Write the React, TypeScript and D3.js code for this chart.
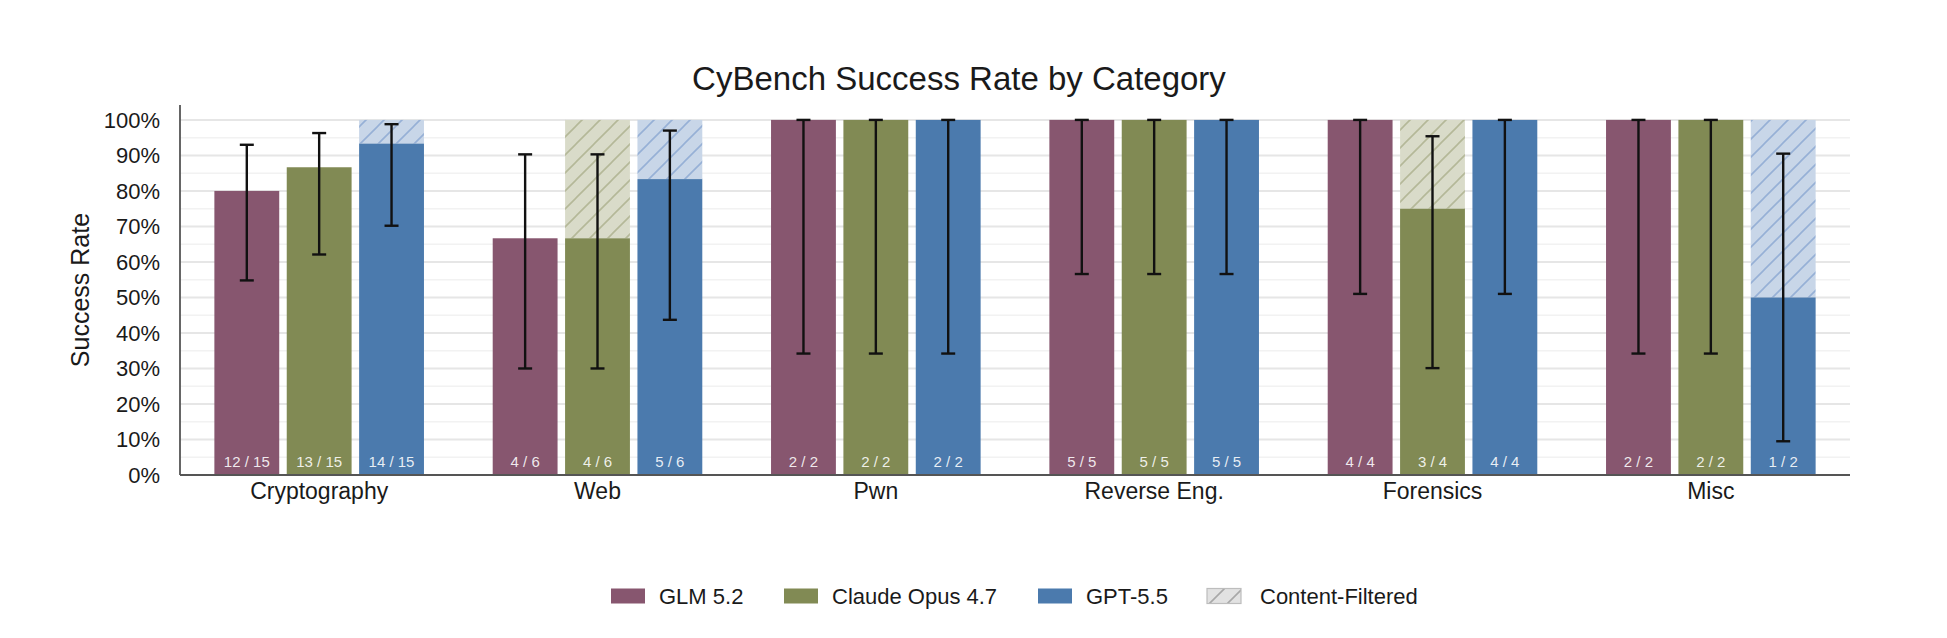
import * as d3 from 'd3';

const categories = ['Cryptography', 'Web', 'Pwn', 'Reverse Eng.', 'Forensics', 'Misc'];
const totals = [15, 6, 2, 5, 4, 2];

const models = ['GLM 5.2', 'Claude Opus 4.7', 'GPT-5.5'];
const modelColors = ['#87566f', '#818a54', '#4b7aad'];
const hatchBg = ['#dccbd3', '#d9dbc9', '#c8d6e8'];
const hatchLine = ['#b797a7', '#b4b898', '#96b0d6'];

// solved tasks per category
const glmSolved = [12, 4, 2, 5, 4, 2];
const claudeSolved = [13, 4, 2, 5, 3, 2];
const gptSolved = [14, 5, 2, 5, 4, 1];

// tasks blocked by the content filter (drawn hatched on top)
const glmFiltered = [0, 0, 0, 0, 0, 0];
const claudeFiltered = [0, 2, 0, 0, 1, 0];
const gptFiltered = [1, 1, 0, 0, 0, 1];

// 95% interval ends
const glmLow = [0.548, 0.3, 0.342, 0.566, 0.51, 0.342];
const glmHigh = [0.93, 0.903, 1, 1, 1, 1];
const claudeLow = [0.621, 0.3, 0.342, 0.566, 0.301, 0.342];
const claudeHigh = [0.963, 0.903, 1, 1, 0.954, 1];
const gptLow = [0.702, 0.437, 0.342, 0.566, 0.51, 0.095];
const gptHigh = [0.988, 0.97, 1, 1, 1, 0.905];

const yTicks = [0, 0.1, 0.2, 0.3, 0.4, 0.5, 0.6, 0.7, 0.8, 0.9, 1.0];
const yMinor = [0.05, 0.15, 0.25, 0.35, 0.45, 0.55, 0.65, 0.75, 0.85, 0.95];

const legendLabels = ['GLM 5.2', 'Claude Opus 4.7', 'GPT-5.5', 'Content-Filtered'];

const solved = [glmSolved, claudeSolved, gptSolved];
const filtered = [glmFiltered, claudeFiltered, gptFiltered];
const lows = [glmLow, claudeLow, gptLow];
const highs = [glmHigh, claudeHigh, gptHigh];

const WIDTH = 1947;
const HEIGHT = 638;
const FONT = '"Liberation Sans", Arial, Helvetica, sans-serif';

export default function App() {
  const margin = { left: 180, right: 1850, top: 105, bottom: 475 };
  const x = d3.scaleLinear().domain([-0.5, categories.length - 0.5]).range([margin.left, margin.right]);
  const y = d3.scaleLinear().domain([0, 1.042]).range([margin.bottom, margin.top]);
  const pitch = 0.26;
  const barW = 0.233;
  const bw = x(barW) - x(0);

  const legendX = [611, 784, 1038, 1207];

  return (
    <div>
      <style>{`body{margin:0}`}</style>
      <svg width={WIDTH} height={HEIGHT} viewBox={`0 0 ${WIDTH} ${HEIGHT}`} style={{ display: 'block', background: '#fff' }} fontFamily={FONT}>
        <defs>
          {models.map((m, i) => (
            <pattern key={m} id={`hatch-${i}`} patternUnits="userSpaceOnUse" width={18} height={18}>
              <rect width={18} height={18} fill={hatchBg[i]} />
              <path d="M0,18 L18,0 M-9,9 L9,-9 M9,27 L27,9" stroke={hatchLine[i]} strokeWidth={1.6} />
            </pattern>
          ))}
          <pattern id="hatch-legend" patternUnits="userSpaceOnUse" width={18} height={18} x={1207} y={588}>
            <rect width={18} height={18} fill="#e2e2e2" />
            <path d="M0,18 L18,0 M-9,9 L9,-9 M9,27 L27,9" stroke="#a8a8a8" strokeWidth={1.6} />
          </pattern>
        </defs>

        {/* title */}
        <text x={959} y={90} textAnchor="middle" fontSize={33} fill="#1a1a1a">
          CyBench Success Rate by Category
        </text>

        {/* grid */}
        {yMinor.map((t) => (
          <line key={`m${t}`} x1={margin.left} x2={margin.right} y1={y(t)} y2={y(t)} stroke="#f2f2f2" strokeWidth={1.5} />
        ))}
        {yTicks.map((t) => (
          <line key={`g${t}`} x1={margin.left} x2={margin.right} y1={y(t)} y2={y(t)} stroke="#e6e6e6" strokeWidth={2} />
        ))}

        {/* bars */}
        {categories.map((c, ci) =>
          models.map((m, mi) => {
            const cx = x(ci + (mi - 1) * pitch);
            const rate = solved[mi][ci] / totals[ci];
            const top = (solved[mi][ci] + filtered[mi][ci]) / totals[ci];
            return (
              <g key={`${c}-${m}`}>
                {filtered[mi][ci] > 0 && (
                  <rect x={cx - bw / 2} width={bw} y={y(top)} height={y(rate) - y(top)} fill={`url(#hatch-${mi})`} />
                )}
                <rect x={cx - bw / 2} width={bw} y={y(rate)} height={y(0) - y(rate)} fill={modelColors[mi]} />
                <text x={cx} y={y(0) - 8} textAnchor="middle" fontSize={15} fill="#fff" fillOpacity={0.88}>
                  {`${solved[mi][ci]} / ${totals[ci]}`}
                </text>
              </g>
            );
          })
        )}

        {/* error bars */}
        {categories.map((c, ci) =>
          models.map((m, mi) => {
            const cx = x(ci + (mi - 1) * pitch);
            const lo = y(lows[mi][ci]);
            const hi = y(highs[mi][ci]);
            return (
              <g key={`e-${c}-${m}`} stroke="#111" strokeWidth={2.4}>
                <line x1={cx} x2={cx} y1={lo} y2={hi} />
                <line x1={cx - 7} x2={cx + 7} y1={lo} y2={lo} />
                <line x1={cx - 7} x2={cx + 7} y1={hi} y2={hi} />
              </g>
            );
          })
        )}

        {/* spines */}
        <line x1={margin.left} x2={margin.left} y1={margin.top} y2={margin.bottom} stroke="#555" strokeWidth={1.8} />
        <line x1={margin.left} x2={margin.right} y1={margin.bottom} y2={margin.bottom} stroke="#555" strokeWidth={1.8} />

        {/* y tick labels */}
        {yTicks.map((t) => (
          <text key={`yl${t}`} x={160} y={y(t)} dy="0.36em" textAnchor="end" fontSize={22} fill="#1a1a1a">
            {d3.format('.0%')(t)}
          </text>
        ))}

        {/* category labels */}
        {categories.map((c, ci) => (
          <text key={c} x={x(ci)} y={499} textAnchor="middle" fontSize={23} fill="#1a1a1a">
            {c}
          </text>
        ))}

        {/* y label */}
        <text transform={`translate(80,${(margin.top + margin.bottom) / 2}) rotate(-90)`} dy="0.36em" textAnchor="middle" fontSize={25} fill="#1a1a1a">
          Success Rate
        </text>

        {/* legend */}
        {legendLabels.map((l, i) => (
          <g key={l}>
            <rect
              x={legendX[i]}
              y={588.5}
              width={34}
              height={15}
              fill={i < 3 ? modelColors[i] : 'url(#hatch-legend)'}
              stroke={i < 3 ? 'none' : '#bdbdbd'}
              strokeWidth={1.2}
            />
            <text x={legendX[i] + (i < 3 ? 48 : 53)} y={596} dy="0.36em" fontSize={22} fill="#1a1a1a">
              {l}
            </text>
          </g>
        ))}
      </svg>
    </div>
  );
}
